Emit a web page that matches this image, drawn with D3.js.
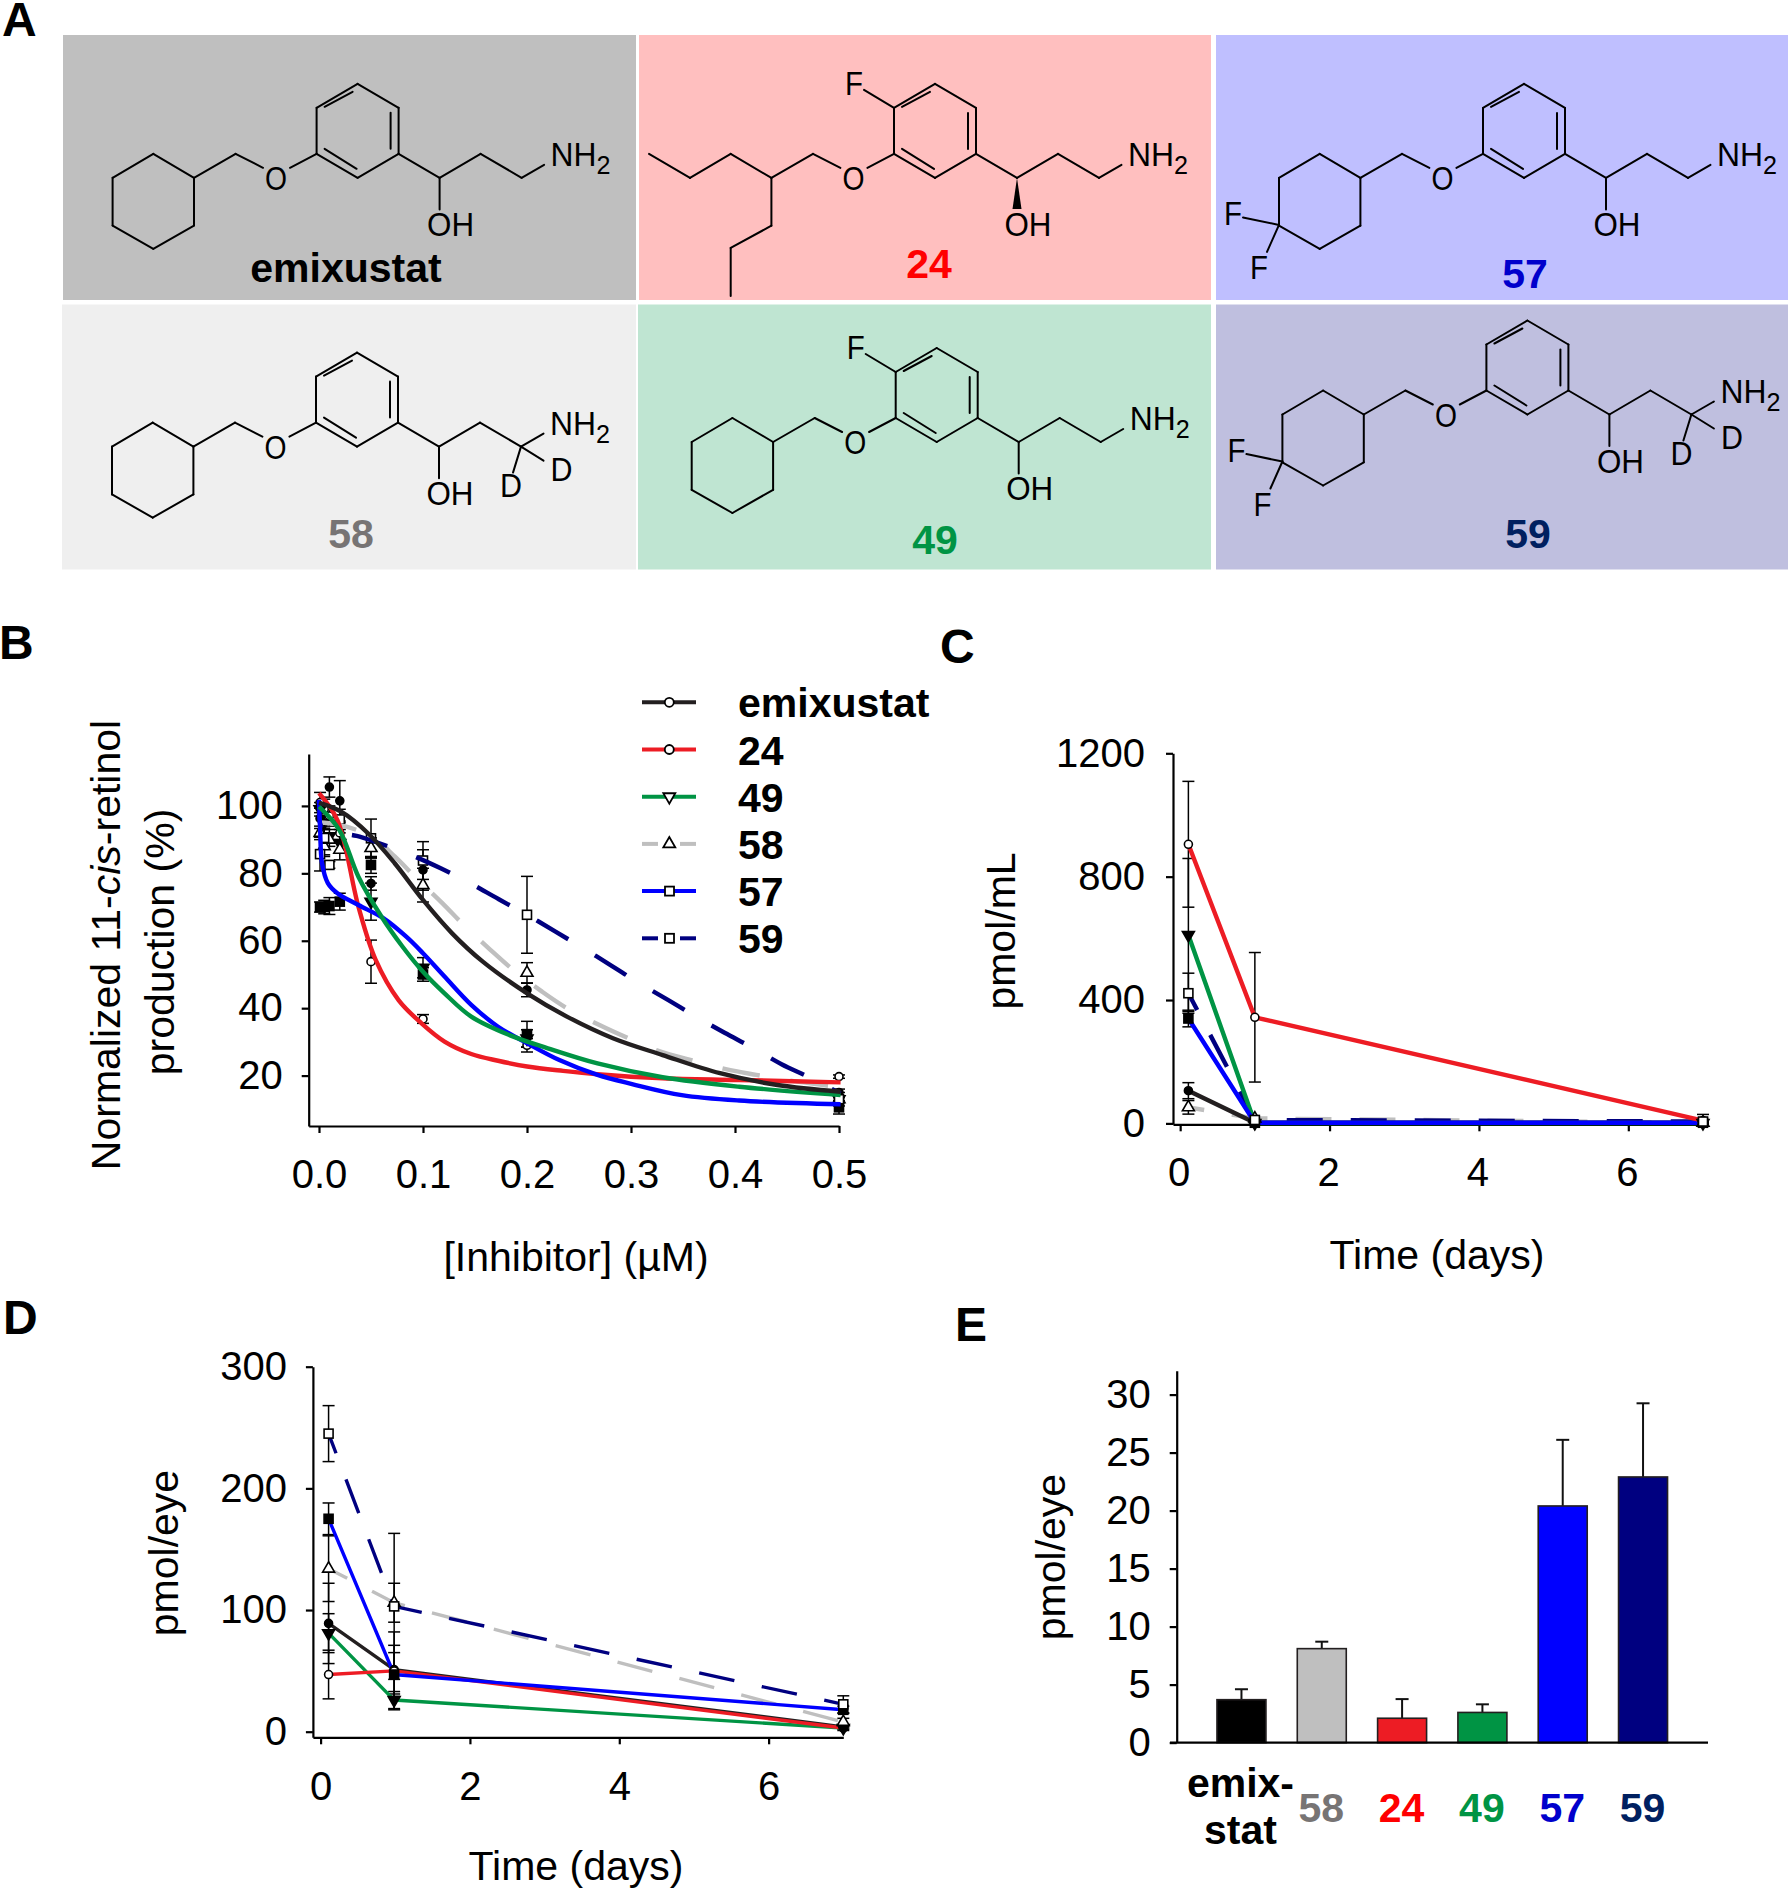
<!DOCTYPE html>
<html><head><meta charset="utf-8">
<script src="https://cdnjs.cloudflare.com/ajax/libs/d3/7.8.5/d3.min.js"></script>
<style>
html,body{margin:0;padding:0;background:#fff}
svg{display:block}
text{font-family:"Liberation Sans",Arial,sans-serif;fill:#000}
</style></head><body>
<script>
// ---------- data ----------
const seriesNames = ["emixustat","24","49","58","57","59"];
const seriesColors = {"emixustat":"#231f20","24":"#ed1c24","49":"#009444","58":"#bfbfbf","57":"#0000ff","59":"#000080"};
const labelColors = {"emixustat":"#000","24":"#ff0000","49":"#009444","58":"#777474","57":"#0000cc","59":"#002060"};
const markerTypes = {"emixustat":"circleF","24":"circle","49":"triD","58":"triU","57":"squareF","59":"square"};

// Panel B
const bDoses = [0.001,0.005,0.01,0.02,0.05,0.1,0.2,0.5];
const bEmix = [96.3,90.4,105.6,101.5,77,81,45.4,15];
const bEmixErr = [3,3,3,6,2,6,2,1];
const b24 = [101,99,97,92,53.8,36.8,29,19.7];
const b24Err = [3,3,3,3,6.4,1.3,2,0.5];
const b49 = [99,95,91,89,71.6,52,31,13];
const b49Err = [2,2,2,3,5.5,3,2.6,0.5];
const b58 = [92,88,90,87,87.5,76.5,50.5,13];
const b58Err = [2,3,2,3,3,5,3,1];
const b57 = [70,70,70.3,71.6,82.5,50,32.3,10.6];
const b57Err = [1.5,2,2.5,2.5,2.5,2,3.8,2];
const b59 = [85.7,90.5,82.5,96,90.4,83.8,67.7,13];
const b59Err = [5,5,1,3,5.7,5.6,11.4,2];
const curveEmix = [[0,101],[.0213,98.3],[.0471,91.9],[.0728,83],[.1,72.1],[.128,62.2],[.1575,53.8],[.2001,44.4],[.2384,37.5],[.2826,31.1],[.3304,26.1],[.3856,20.7],[.4408,17.2],[.5015,15.2]];
const curve24 = [[0,103.8],[.0177,95.8],[.0379,70.1],[.0545,54.3],[.0765,42.4],[.0986,35.5],[.1207,30.1],[.1464,26.4],[.1722,24.4],[.2001,22.7],[.2347,21.4],[.2678,20.4],[.3304,19.2],[.404,18.7],[.5015,18]];
const curve49 = [[0,99.8],[.0195,92.9],[.0379,79],[.06,67.2],[.0802,58.3],[.1,50.8],[.1207,44.4],[.1464,37.5],[.1832,32],[.22,28.1],[.2678,23.6],[.3304,19.5],[.404,16.7],[.5015,14.2]];
const curve58 = [[0,95.1],[.0177,94.5],[.0508,90.9],[.0728,85],[.0938,78.5],[.1188,71.1],[.1391,64.7],[.1648,57.3],[.1869,51.3],[.2145,44.9],[.2384,40],[.2697,35],[.2973,31.1],[.3285,27.1],[.358,24.6],[.3911,21.9],[.4205,20.2],[.4536,18.5],[.5015,16.5]];
const curve57 = [[0,101.8],[.0011,92.9],[.0029,83],[.0085,77.1],[.0177,74.1],[.0379,70.6],[.0618,66.7],[.0839,61.2],[.1,56.3],[.1207,49.4],[.1464,41],[.1722,34.5],[.2001,29.6],[.2311,24.6],[.2678,20.2],[.301,17.5],[.3488,14.2],[.404,12.6],[.5015,11.5]];
const curve59 = [[0,97.8],[.0022,93.9],[.0103,92.4],[.0232,91.7],[.0361,91.1],[.0581,88.9],[.0857,85.8],[.117,81.5],[.1428,77.5],[.1729,72.3],[.2001,67.7],[.2274,62.7],[.2513,58.3],[.2818,52.5],[.3054,47.9],[.3359,42.4],[.3598,38],[.39,32.7],[.415,28.6],[.4452,23.3],[.4702,19.7],[.5015,14.7]];
const bTicksX = [0,0.1,0.2,0.3,0.4,0.5];
const bTicksY = [20,40,60,80,100];

// Panel C
const cDays = [0.11,1,7];
const cEmix = [106,2,2];   const cEmixErr = [26,2,2];
const c24 = [905,344,9];   const c24Err = [204,210,20];
const c49 = [611,1,1];     const c49Err = [248,3,2];
const c58 = [52,16,2];     const c58Err = [22,3,2];
const c57 = [340,2,2];     const c57Err = [27,2,2];
const c59 = [422,11,6];    const c59Err = [65,5,3];
const cTicksX = [0,2,4,6];
const cTicksY = [0,400,800,1200];

// Panel D
const dDays = [0.107,0.985,7];
const dEmix = [89,51,4];   const dEmixErr = [33,20,1];
const d24 = [47,50,3];     const d24Err = [20,32,1];
const d49 = [81,26,3];     const d49Err = [16,7,2];
const d58 = [134,106,8];   const d58Err = [27,16,3];
const d57 = [175,47,18];   const d57Err = [13,18,3];
const d59 = [245,103,22.5];const d59Err = [23,60,7];
const dTicksX = [0,2,4,6];
const dTicksY = [0,100,200,300];

// Panel E
const eNames = ["emixustat","58","24","49","57","59"];
const eValues = [3.7,8.1,2.1,2.6,20.4,22.9];
const eErrors = [0.9,0.6,1.65,0.7,5.7,6.35];
const eBarColors = ["#000000","#bfbfbf","#ed1c24","#009444","#0000ff","#000080"];
const eTicksY = [0,5,10,15,20,25,30];

// Panel A
const cardNames = ["emixustat","24","57","58","49","59"];
const cardFills = ["#bfbfbf","#ffbfbf","#bfbfff","#efefef","#bfe5d2","#bfbfdf"];

// ---------- page ----------
const svg = d3.select("body").append("svg").attr("width",1788).attr("height",1890);
svg.append("rect").attr("width",1788).attr("height",1890).attr("fill","#fff");
const FS = 40, LFS = 41;

function letter(t,x,y){svg.append("text").attr("x",x).attr("y",y).attr("font-size",48).attr("font-weight",700).text(t);}
letter("A",2,36);letter("B",-1,659);letter("C",940,663);letter("D",3,1334);letter("E",955,1341);

// ---------- panel A: structures ----------
const cards = [
 {x:63,y:35,w:573,h:265,T:[357.6,83.8],lab:[346,282],F:false,tail:"cy",D:false,wedge:false},
 {x:639,y:35,w:572,h:265,T:[935,83.9],lab:[929,278],F:true,tail:"branch",D:false,wedge:true},
 {x:1216,y:35,w:572,h:265,T:[1524,83.9],lab:[1525,288],F:false,tail:"cyF2",D:false,wedge:false},
 {x:62,y:304.5,w:574,h:265,T:[357,352.6],lab:[351,548],F:false,tail:"cy",D:true,wedge:false},
 {x:638,y:304.5,w:573,h:265,T:[936.7,348],lab:[935,554],F:true,tail:"cy",D:false,wedge:false},
 {x:1216,y:304.5,w:572,h:265,T:[1527.4,320.5],lab:[1528,548],F:false,tail:"cyF2",D:true,wedge:false}
];
const coreBonds = [
 [[0,0],[41,24]],[[41,24],[41,70]],[[41,70],[0,94]],[[0,94],[-41,70]],[[-41,70],[-41,24]],[[-41,24],[0,0]],
 [[-33,23],[-5,8]],[[33,29],[33,65]],[[-33,65],[-1,85]],
 [[41,70],[82,94]],[[82,94],[123,70]],[[123,70],[164,94]],[[164,94],[186.5,81]],
 [[-41,70],[-67.6,84]],[[-94.6,84],[-122,70]],[[-122,70],[-163.6,94]]
];
const ringTail = [[[-163.6,94],[-204.3,70]],[[-204.3,70],[-245,94]],[[-245,94],[-245,141.8]],[[-245,141.8],[-204.3,165]],[[-204.3,165],[-163.6,141.8]],[[-163.6,141.8],[-163.6,94]]];
const branchTail = [[[-163.6,94],[-204.3,70]],[[-204.3,70],[-245,94]],[[-245,94],[-286,70]],[[-163.6,94],[-163.6,141.8]],[[-163.6,141.8],[-204.3,164]],[[-204.3,164],[-204.3,212]]];
const g2Bonds = [[[-245,141],[-281,133.6]],[[-245,141],[-257,168]]];
const fBond = [[-71,6],[-41,24]];
const dBonds = [[[164,94],[186.5,108]],[[164,94],[156,120]]];
// atom labels are slightly condensed and tall in the reference
function atom(g,t,x,y,size,len){
  const el = g.append("text").attr("x",x).attr("y",y).attr("font-size",size||34).text(t);
  if(len) el.attr("textLength",len).attr("lengthAdjust","spacingAndGlyphs");
  return el;
}
cards.forEach((c,i)=>{
  svg.append("rect").attr("x",c.x).attr("y",c.y).attr("width",c.w).attr("height",c.h).attr("fill",cardFills[i]);
  const g = svg.append("g").attr("transform",`translate(${c.T[0]},${c.T[1]})`);
  let bonds = coreBonds.slice();
  if(c.tail==="branch") bonds = bonds.concat(branchTail); else bonds = bonds.concat(ringTail);
  if(c.tail==="cyF2") bonds = bonds.concat(g2Bonds);
  if(c.F) bonds.push(fBond);
  if(c.D) bonds = bonds.concat(dBonds);
  if(!c.wedge) bonds.push([[82,94],[82,125.6]]);
  g.selectAll("line").data(bonds).join("line")
   .attr("x1",d=>d[0][0]).attr("y1",d=>d[0][1]).attr("x2",d=>d[1][0]).attr("y2",d=>d[1][1])
   .attr("stroke","#000").attr("stroke-width",2).attr("stroke-linecap","round");
  if(c.wedge) g.append("path").attr("d","M82,94L77.5,125L86.5,125Z").attr("fill","#000");
  atom(g,"NH",193,82,34,46); atom(g,"2",239,90,25,14);
  atom(g,"OH",69.5,152,34,47);
  atom(g,"O",-92.5,106,34,22);
  if(c.F) atom(g,"F",-90,11,34,18);
  if(c.tail==="cyF2"){atom(g,"F",-300,141,34,18);atom(g,"F",-274,195,34,18);}
  if(c.D){atom(g,"D",193.5,128.6,34,22);atom(g,"D",143,144.4,34,22);}
  svg.append("text").attr("x",c.lab[0]).attr("y",c.lab[1]).attr("font-size",LFS).attr("font-weight",700)
    .attr("text-anchor","middle").style("fill",labelColors[cardNames[i]]).text(cardNames[i]);
});

// ---------- helpers ----------
function axes(xS,yS,bottom,left,xTicks,yTicks,xFmt,pad,xPad,xShift){
  const xa = d3.axisBottom(xS).tickValues(xTicks).tickFormat(xFmt).tickSize(7).tickSizeOuter(0).tickPadding(xPad);
  const ya = d3.axisLeft(yS).tickValues(yTicks).tickFormat(d3.format("d")).tickSize(7).tickSizeOuter(0).tickPadding(pad);
  const gx = svg.append("g").attr("transform",`translate(0,${bottom})`).call(xa);
  const gy = svg.append("g").attr("transform",`translate(${left},0)`).call(ya);
  [gx,gy].forEach(g=>{
    g.attr("font-size",FS).attr("font-family",'"Liberation Sans",Arial,sans-serif');
    g.selectAll("path,line").attr("stroke","#000").attr("stroke-width",2.2);
    g.selectAll("text").style("fill","#000");
  });
  if(xShift) gx.selectAll("text").attr("dx",xShift);
}
const symT = d3.symbol().type(d3.symbolTriangle).size(62);
function marker(g,type,x,y,r){
  const open = !type.endsWith("F");
  const base = type.replace(/F$/,"");
  const fill = open?"#fff":"#000";
  let m;
  if(base==="circle") m = g.append("circle").attr("cx",x).attr("cy",y).attr("r",r||4);
  else if(base==="square") m = g.append("rect").attr("x",x-4.5).attr("y",y-4.5).attr("width",9).attr("height",9);
  else if(base==="triU") m = g.append("path").attr("d",symT()).attr("transform",`translate(${x},${y})`);
  else m = g.append("path").attr("d",symT()).attr("transform",`translate(${x},${y}) rotate(180)`);
  const isTriD = base==="triD";
  m.attr("fill",isTriD?"#000":fill).attr("stroke","#000").attr("stroke-width",1.6);
}
function errs(g,xS,yS,xs,ys,es,capHalf){
  xs.forEach((x,i)=>{
    const px=xS(x), t=yS(ys[i]+es[i]), b=yS(Math.max(ys[i]-es[i],yS.domain()[0]));
    g.append("line").attr("x1",px).attr("x2",px).attr("y1",t).attr("y2",b).attr("stroke","#000").attr("stroke-width",1.5);
    [t,b].forEach(v=>g.append("line").attr("x1",px-capHalf).attr("x2",px+capHalf).attr("y1",v).attr("y2",v).attr("stroke","#000").attr("stroke-width",1.5));
  });
}
function htext(s,x,y){svg.append("text").attr("x",x).attr("y",y).attr("font-size",LFS).attr("text-anchor","middle").text(s);}
const dashes = {"58":"38 31","59":"37 31"};

// ---------- panel B ----------
const xB = d3.scaleLinear().domain([-0.0099,0.5]).range([308.7,839]);
const yB = d3.scaleLinear().domain([5.05,115.4]).range([1126,754]);
axes(xB,yB,1126,308.7,bTicksX,bTicksY,d3.format(".1f"),19,27,0);
const bRows = {"emixustat":[bEmix,bEmixErr,curveEmix],"24":[b24,b24Err,curve24],"49":[b49,b49Err,curve49],"58":[b58,b58Err,curve58],"57":[b57,b57Err,curve57],"59":[b59,b59Err,curve59]};
const gB = svg.append("g");
seriesNames.forEach(n=>errs(gB,xB,yB,bDoses,bRows[n][0],bRows[n][1],6));
seriesNames.forEach(n=>bDoses.forEach((x,i)=>marker(gB,markerTypes[n],xB(x),yB(bRows[n][0][i]))));
const curveGen = d3.line().x(d=>xB(d[0])).y(d=>yB(d[1])).curve(d3.curveCatmullRom.alpha(0.5));
["58","59","24","57","49","emixustat"].forEach(n=>{
  svg.append("path").attr("d",curveGen(bRows[n][2])).attr("fill","none").attr("stroke",seriesColors[n])
    .attr("stroke-width",4.4).attr("stroke-dasharray",dashes[n]||null)
    .attr("stroke-dashoffset",n==="59"?22:0);
});
const lb = svg.append("text").attr("transform","translate(120,945) rotate(-90)").attr("font-size",LFS).attr("text-anchor","middle");
lb.append("tspan").text("Normalized 11-");
lb.append("tspan").attr("font-style","italic").text("cis");
lb.append("tspan").text("-retinol");
svg.append("text").attr("transform","translate(174,942) rotate(-90)").attr("font-size",LFS).attr("text-anchor","middle").text("production (%)");
htext("[Inhibitor] (µM)",576,1271);

// legend
const legendNames = seriesNames;
const yLeg = d3.scalePoint().domain(legendNames).range([702.3,938.3]);
legendNames.forEach(n=>{
  const y=yLeg(n), dashed = n==="58"||n==="59";
  if(dashed){
    [[642,658],[680,696]].forEach(s=>svg.append("line").attr("x1",s[0]).attr("x2",s[1]).attr("y1",y).attr("y2",y).attr("stroke",seriesColors[n]).attr("stroke-width",4));
  } else {
    svg.append("line").attr("x1",642).attr("x2",696).attr("y1",y).attr("y2",y).attr("stroke",seriesColors[n]).attr("stroke-width",4);
  }
  const base = markerTypes[n].replace(/F$/,"");
  const gg = svg.append("g");
  if(base==="circle") gg.append("circle").attr("cx",669.3).attr("cy",y).attr("r",4.5).attr("fill","#fff").attr("stroke","#000").attr("stroke-width",1.8);
  else if(base==="square") gg.append("rect").attr("x",665).attr("y",y-4.5).attr("width",9).attr("height",9).attr("fill","#fff").attr("stroke","#000").attr("stroke-width",1.8);
  else gg.append("path").attr("d",symT()).attr("transform",`translate(669.3,${y}) ${base==="triD"?"rotate(180)":""}`).attr("fill","#fff").attr("stroke","#000").attr("stroke-width",1.8);
  svg.append("text").attr("x",738).attr("y",y+15).attr("font-size",LFS).attr("font-weight",700).text(n);
});

// ---------- panel C ----------
const xC = d3.scaleLinear().domain([-0.096,7]).range([1173,1703]);
const yC = d3.scaleLinear().domain([-3,1200]).range([1124.3,753.3]);
axes(xC,yC,1124.3,1173,cTicksX,cTicksY,d3.format("d"),21,26,-1.5);
const cRows = {"emixustat":[cEmix,cEmixErr],"24":[c24,c24Err],"49":[c49,c49Err],"58":[c58,c58Err],"57":[c57,c57Err],"59":[c59,c59Err]};
function panelLines(days,rows,xS,yS,width,order,offs,capHalf){
  const g = svg.append("g");
  seriesNames.forEach(n=>errs(g,xS,yS,days,rows[n][0],rows[n][1],capHalf));
  const ln = d3.line().x(d=>xS(d[0])).y(d=>yS(d[1]));
  order.forEach(n=>{
    svg.append("path").attr("d",ln(days.map((x,i)=>[x,rows[n][0][i]]))).attr("fill","none")
      .attr("stroke",seriesColors[n]).attr("stroke-width",width)
      .attr("stroke-dasharray",n==="58"||n==="59"?"36 28":null)
      .attr("stroke-dashoffset",offs[n]||0);
  });
  const gm = svg.append("g");
  seriesNames.forEach(n=>days.forEach((x,i)=>marker(gm,markerTypes[n],xS(x),yS(rows[n][0][i]))));
}
panelLines(cDays,cRows,xC,yC,4.4,["58","59","49","emixustat","57","24"],{"59":17,"58":20},6);
svg.append("text").attr("transform","translate(1015,931) rotate(-90)").attr("font-size",LFS).attr("text-anchor","middle").text("pmol/mL");
htext("Time (days)",1437,1269);

// ---------- panel D ----------
const xD = d3.scaleLinear().domain([-0.103,7]).range([312.9,843.3]);
const yD = d3.scaleLinear().domain([-4.6,300]).range([1737.3,1366.7]);
axes(xD,yD,1737.3,312.9,dTicksX,dTicksY,d3.format("d"),19,27,0);
const dRows = {"emixustat":[dEmix,dEmixErr],"24":[d24,d24Err],"49":[d49,d49Err],"58":[d58,d58Err],"57":[d57,d57Err],"59":[d59,d59Err]};
panelLines(dDays,dRows,xD,yD,3.4,["emixustat","58","59","49","24","57"],{"59":15,"58":15},6);
svg.append("text").attr("transform","translate(178,1553) rotate(-90)").attr("font-size",LFS).attr("text-anchor","middle").text("pmol/eye");
htext("Time (days)",576,1880);

// ---------- panel E ----------
const xE = d3.scaleBand().domain(eNames).range([1201.3,1683.2]).paddingInner(0.39).paddingOuter(0.195);
const yE = d3.scaleLinear().domain([0,32.06]).range([1742.6,1370.7]);
const gE = svg.append("g");
gE.selectAll(".err").data(eNames).join("g").each(function(n,i){
  const g=d3.select(this), cx=xE(n)+xE.bandwidth()/2, top=yE(eValues[i]+eErrors[i]);
  g.append("line").attr("x1",cx).attr("x2",cx).attr("y1",yE(eValues[i])).attr("y2",top).attr("stroke","#111").attr("stroke-width",2);
  g.append("line").attr("x1",cx-6.5).attr("x2",cx+6.5).attr("y1",top).attr("y2",top).attr("stroke","#111").attr("stroke-width",2);
});
gE.selectAll("rect").data(eNames).join("rect")
  .attr("x",d=>xE(d)).attr("width",xE.bandwidth())
  .attr("y",(d,i)=>yE(eValues[i])).attr("height",(d,i)=>yE(0)-yE(eValues[i]))
  .attr("fill",(d,i)=>eBarColors[i]).attr("stroke","#231f20").attr("stroke-width",1.6);
const gey = svg.append("g").attr("transform","translate(1176.7,0)").call(d3.axisLeft(yE).tickValues(eTicksY).tickFormat(d3.format("d")).tickSize(7).tickSizeOuter(0).tickPadding(19));
gey.attr("font-size",FS).attr("font-family",'"Liberation Sans",Arial,sans-serif');
gey.selectAll("path,line").attr("stroke","#000").attr("stroke-width",2.2);
gey.selectAll("text").style("fill","#000");
svg.append("line").attr("x1",1170).attr("x2",1708).attr("y1",yE(0)).attr("y2",yE(0)).attr("stroke","#000").attr("stroke-width",2.2);
eNames.forEach(n=>{
  const cx=xE(n)+xE.bandwidth()/2;
  if(n==="emixustat"){
    svg.append("text").attr("x",cx-1).attr("y",1797).attr("font-size",LFS).attr("font-weight",700).attr("text-anchor","middle").text("emix-");
    svg.append("text").attr("x",cx-1).attr("y",1844).attr("font-size",LFS).attr("font-weight",700).attr("text-anchor","middle").text("stat");
  } else {
    svg.append("text").attr("x",cx-0.5).attr("y",1822).attr("font-size",LFS).attr("font-weight",700).attr("text-anchor","middle").style("fill",labelColors[n]).text(n);
  }
});
svg.append("text").attr("transform","translate(1065,1557) rotate(-90)").attr("font-size",LFS).attr("text-anchor","middle").text("pmol/eye");
</script>
</body></html>
